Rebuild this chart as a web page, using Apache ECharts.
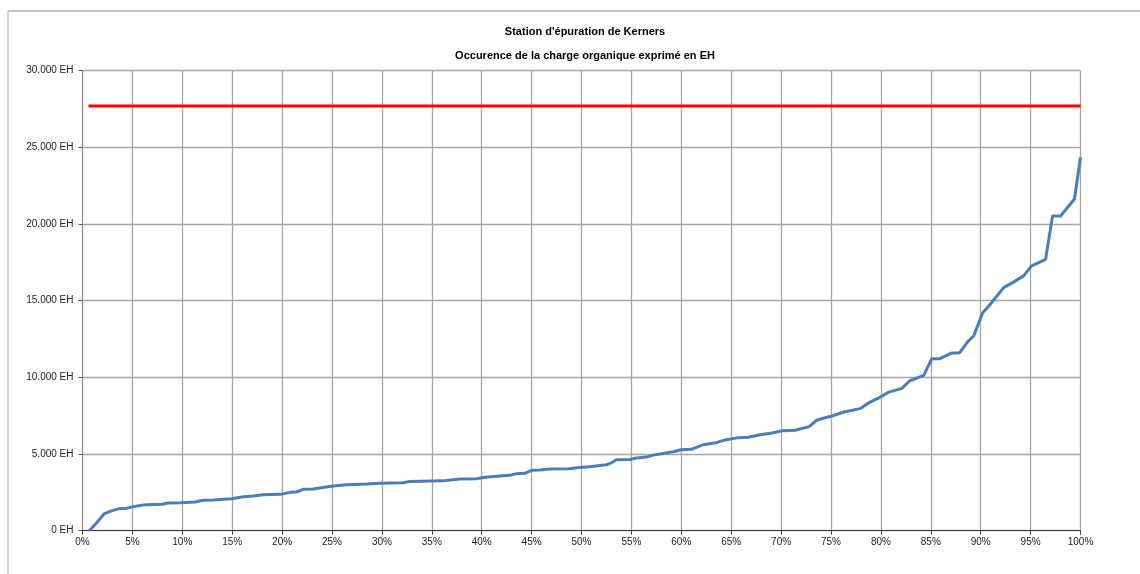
<!DOCTYPE html>
<html>
<head>
<meta charset="utf-8">
<script src="https://cdn.jsdelivr.net/npm/echarts@6/dist/echarts.min.js"></script>
<style>
html,body{margin:0;padding:0;background:#fff;}
#c{width:1140px;height:574px;}
</style>
</head>
<body>
<div id="c"></div>
<script>
var titleMain = "Station d'épuration de Kerners";
var titleSub = "Occurence de la charge organique exprimé en EH";

// Occurrence (%) and organic load (EH)
var occurrencePct = [0.68,1.42,2.16,2.9,3.7,4.26,5.1,5.93,6.43,7.93,8.6,9.77,11.27,12.1,13.1,14.95,16.1,17.1,18.1,19.8,20.8,21.5,22.1,23.1,25.1,26.5,28.5,29.8,32.1,32.8,36.1,37.8,39.5,40.3,41.2,42.8,43.5,44.3,45.0,45.8,46.8,48.8,49.5,50.8,52.5,53.0,53.5,54.9,55.5,56.5,57.2,58.2,59.2,60.0,61.0,62.2,63.5,64.4,65.7,66.7,67.9,69.1,70.1,71.4,72.8,73.6,74.3,75.1,76.3,77.9,78.8,79.9,80.8,82.1,82.9,84.3,85.1,85.9,87.0,87.9,88.7,89.3,90.2,90.9,92.3,93.2,94.3,95.1,96.5,97.2,98.0,99.4,100];
var chargeEH = [0,520,1090,1290,1440,1440,1570,1660,1700,1720,1810,1830,1870,1980,2000,2090,2220,2260,2350,2370,2500,2540,2700,2720,2915,3000,3045,3090,3130,3210,3250,3370,3390,3480,3540,3610,3720,3740,3940,3960,4020,4040,4110,4170,4300,4430,4630,4650,4740,4800,4930,5040,5150,5280,5310,5610,5740,5920,6070,6090,6260,6370,6520,6550,6790,7220,7350,7480,7740,7960,8350,8700,9040,9280,9780,10130,11220,11220,11570,11610,12330,12700,14220,14720,15850,16180,16620,17270,17700,20520,20520,21630,24350];

// Capacity line (EH)
var capacityPct = [0.6, 100];
var capacityEH = [27700, 27700];

var xTicks = {min: 0, max: 100, interval: 5};
var yTicks = {min: 0, max: 30000, interval: 5000};

function zip(a, b){ return a.map(function(v,i){ return [v, b[i]]; }); }
function fmtEH(v){
  var s = String(Math.round(v));
  return s.replace(/\B(?=(\d{3})+(?!\d))/g, '.') + ' EH';
}

var chart = echarts.init(document.getElementById('c'), null, {renderer:'canvas'});
var font = 'Liberation Sans, Arial, sans-serif';
chart.setOption({
  animation: false,
  backgroundColor: '#fff',
  title: [
    {text: titleMain, left: 580, top: 21, textAlign: 'center',
     textStyle: {fontFamily: font, fontSize: 11, fontWeight: 'bold', color: '#000'}},
    {text: titleSub, left: 580, top: 45, textAlign: 'center',
     textStyle: {fontFamily: font, fontSize: 11, fontWeight: 'bold', color: '#000'}}
  ],
  graphic: [
    {type: 'line', shape: {x1: 8, y1: 11, x2: 1140, y2: 11}, style: {stroke: '#c4c4c4', lineWidth: 2}, silent: true},
    {type: 'line', shape: {x1: 8, y1: 11, x2: 8, y2: 574}, style: {stroke: '#d4d4d4', lineWidth: 2}, silent: true}
  ],
  grid: {left: 82.5, right: 59.5, top: 70.7, bottom: 43.3, containLabel: false},
  xAxis: {
    type: 'value', min: xTicks.min, max: xTicks.max, interval: xTicks.interval,
    axisLine: {show: true, lineStyle: {color: '#404040', width: 1}},
    axisTick: {show: true, length: 4, lineStyle: {color: '#404040'}},
    axisLabel: {formatter: '{value}%', margin: 7, fontFamily: font, fontSize: 10, color: '#222'},
    splitLine: {show: true, lineStyle: {color: '#a6a6a6', width: 1.3}}
  },
  yAxis: {
    type: 'value', min: yTicks.min, max: yTicks.max, interval: yTicks.interval,
    axisLine: {show: true, lineStyle: {color: '#8c8c8c', width: 1}},
    axisTick: {show: true, length: 4, lineStyle: {color: '#555'}},
    axisLabel: {formatter: fmtEH, margin: 9, fontFamily: font, fontSize: 10, color: '#222'},
    splitLine: {show: true, lineStyle: {color: '#a6a6a6', width: 1.3}}
  },
  series: [
    {type: 'line', data: zip(capacityPct, capacityEH), symbol: 'none',
     lineStyle: {color: '#ff0000', width: 3}, z: 3},
    {type: 'line', data: zip(occurrencePct, chargeEH), symbol: 'none',
     lineStyle: {color: '#4a7ebb', width: 3}, z: 4}
  ]
});
</script>
</body>
</html>
